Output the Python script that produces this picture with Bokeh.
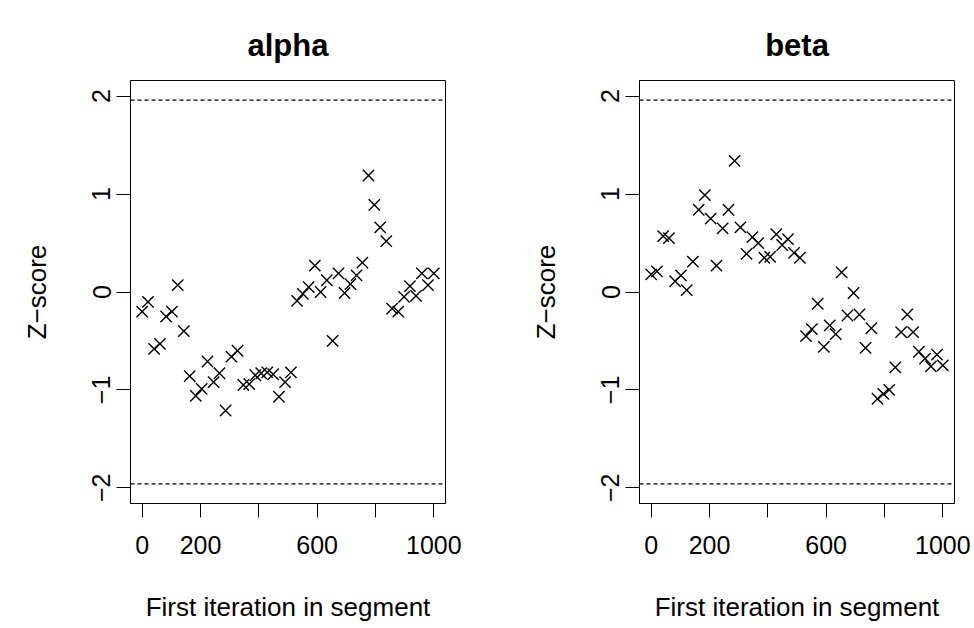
from bokeh.plotting import figure
from bokeh.layouts import row
from bokeh.models import Range1d, FixedTicker, Span
from bokeh.embed import file_html
from bokeh.resources import INLINE

# First iteration in segment (shared x values)
first_iter = [0, 20, 41, 61, 82, 102, 122, 143, 163, 184,
              204, 224, 245, 265, 286, 306, 327, 347, 367, 388,
              408, 429, 449, 469, 490, 510, 531, 551, 571, 592,
              612, 633, 653, 673, 694, 714, 735, 755, 776, 796,
              816, 837, 857, 878, 898, 918, 939, 959, 980, 1000]

alpha_z = [-0.20, -0.10, -0.58, -0.53, -0.25, -0.20, 0.07, -0.40, -0.86, -1.06,
           -0.99, -0.71, -0.92, -0.83, -1.21, -0.66, -0.60, -0.95, -0.94, -0.85,
           -0.83, -0.82, -0.84, -1.07, -0.92, -0.82, -0.09, -0.02, 0.05, 0.27,
           0.00, 0.12, -0.50, 0.19, -0.01, 0.08, 0.17, 0.30, 1.19, 0.89,
           0.66, 0.52, -0.17, -0.20, -0.05, 0.06, -0.04, 0.19, 0.07, 0.19]

beta_z = [0.18, 0.21, 0.57, 0.55, 0.11, 0.17, 0.02, 0.31, 0.84, 0.99,
          0.75, 0.27, 0.65, 0.84, 1.34, 0.66, 0.39, 0.56, 0.50, 0.35,
          0.36, 0.59, 0.48, 0.54, 0.40, 0.35, -0.45, -0.38, -0.12, -0.56,
          -0.34, -0.43, 0.20, -0.24, -0.01, -0.23, -0.57, -0.37, -1.09, -1.04,
          -1.00, -0.77, -0.41, -0.23, -0.41, -0.61, -0.68, -0.76, -0.64, -0.75]

panel_titles = ["alpha", "beta"]
x_ticks = [0, 200, 400, 600, 800, 1000]
x_tick_labels = {0: "0", 200: "200", 400: "", 600: "600", 800: "", 1000: "1000"}
y_ticks = [-2, -1, 0, 1, 2]
y_tick_labels = {-2: "\u22122", -1: "\u22121", 0: "0", 1: "1", 2: "2"}
crit = 1.96

FONT = "Liberation Sans"
TICK_SIZE = "25px"
LABEL_SIZE = "26px"
TITLE_SIZE = "31px"


def make_panel(title, ys, width, border_left, border_right):
    p = figure(width=width, height=628, output_backend="svg", toolbar_location=None,
               x_range=Range1d(-40, 1040), y_range=Range1d(-2.16, 2.16),
               min_border_left=border_left, min_border_right=border_right,
               min_border_top=80, min_border_bottom=125,
               background_fill_color="white", border_fill_color="white")
    p.title.text = title
    p.title.align = "center"
    p.title.text_font = FONT
    p.title.text_font_size = TITLE_SIZE
    p.title.text_font_style = "bold"
    p.title.text_color = "black"
    p.title.standoff = 36
    p.grid.visible = False
    p.outline_line_color = "black"
    p.outline_line_width = 1
    p.outline_line_alpha = 1.0

    for ax in (p.xaxis[0], p.yaxis[0]):
        ax.axis_line_color = "black"
        ax.major_tick_line_color = "black"
        ax.minor_tick_line_color = None
        ax.major_tick_in = 0
        ax.major_tick_out = 14
        ax.major_label_text_font = FONT
        ax.major_label_text_font_size = TICK_SIZE
        ax.major_label_text_color = "black"
        ax.axis_label_text_font = FONT
        ax.axis_label_text_font_size = LABEL_SIZE
        ax.axis_label_text_font_style = "normal"
        ax.axis_label_text_color = "black"

    p.xaxis.ticker = FixedTicker(ticks=x_ticks)
    p.xaxis.major_label_overrides = x_tick_labels
    p.xaxis.axis_label = "First iteration in segment"
    p.xaxis.major_label_standoff = 18
    p.xaxis.axis_label_standoff = 35

    p.yaxis.ticker = FixedTicker(ticks=y_ticks)
    p.yaxis.major_label_overrides = y_tick_labels
    p.yaxis.major_label_orientation = "vertical"
    p.yaxis.axis_label = "Z\u2212score"
    p.yaxis.major_label_standoff = 6
    p.yaxis.axis_label_standoff = 38

    for loc in (crit, -crit):
        p.add_layout(Span(location=loc, dimension="width", line_color="black",
                          line_width=1.1, line_dash="4 3"))

    p.scatter(first_iter, ys, marker="x", size=16, line_color="black", line_width=1.4)
    return p


p1 = make_panel(panel_titles[0], alpha_z, 500, 130, 55)
p2 = make_panel(panel_titles[1], beta_z, 474, 139, 20)
layout = row(p1, p2)

open("out.html", "w").write(file_html(layout, INLINE))
